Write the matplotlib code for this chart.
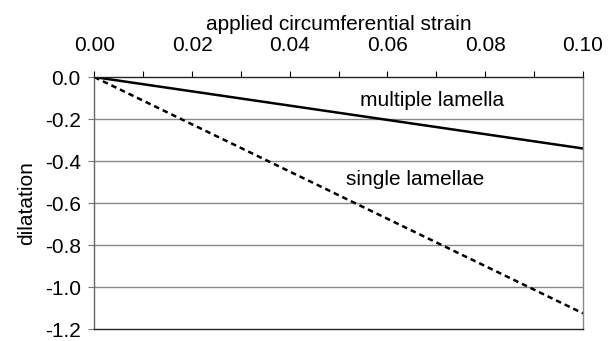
import matplotlib

matplotlib.use("Agg")
import matplotlib.pyplot as plt
from matplotlib.ticker import MultipleLocator

# strain vs dilatation, both curves are straight lines from the origin
strain = [0.0, 0.10]
multiple_lamella = [0.0, -0.34]
single_lamellae = [0.0, -1.125]
yticks = [0.0, -0.2, -0.4, -0.6, -0.8, -1.0, -1.2]
xticks = [0.00, 0.02, 0.04, 0.06, 0.08, 0.10]

plt.rcParams["font.family"] = ["Liberation Sans", "DejaVu Sans"]
FS = 15

fig = plt.figure(figsize=(6.13, 3.41), dpi=100)
ax = fig.add_axes([0.1538, 0.035, 0.7972, 0.739])

ax.plot(strain, multiple_lamella, color="black", lw=1.8)
ax.plot(strain, single_lamellae, color="black", lw=1.8, ls=(0, (2.2, 1.6)))

ax.text(0.0543, -0.11, "multiple lamella", fontsize=FS, va="center", ha="left")
ax.text(0.0516, -0.49, "single lamellae", fontsize=FS, va="center", ha="left")

ax.set_xlim(0, 0.10)
ax.set_ylim(-1.2, 0.0)
ax.xaxis.tick_top()
ax.xaxis.set_label_position("top")
ax.set_xticks(xticks)
ax.set_xticklabels([f"{v:.2f}" for v in xticks])
ax.xaxis.set_minor_locator(MultipleLocator(0.01))
ax.set_yticks(yticks)
ax.set_yticklabels([f"{v:.1f}" for v in yticks])

ax.set_xlabel("applied circumferential strain", fontsize=FS, labelpad=4)
ax.set_ylabel("dilatation", fontsize=FS, labelpad=6)

ax.tick_params(axis="x", which="both", direction="out", length=4, width=0.8,
               pad=12, labelsize=FS, top=True, bottom=False)
ax.tick_params(axis="y", direction="out", length=4.3, width=0.8, pad=5.5,
               labelsize=FS, color="#777777")

for v in yticks[1:-1]:
    ax.axhline(v, color="#888888", lw=1.0, zorder=0)

ax.spines["top"].set_color("#222222")
ax.spines["bottom"].set_color("#222222")
ax.spines["left"].set_color("#666666")
ax.spines["right"].set_color("#888888")
for s in ax.spines.values():
    s.set_linewidth(1.0)

fig.savefig("out.png", dpi=100)
